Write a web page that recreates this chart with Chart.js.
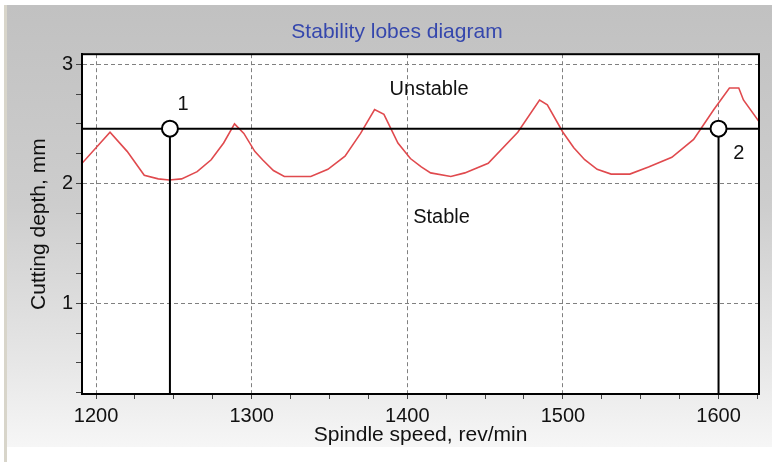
<!DOCTYPE html>
<html>
<head>
<meta charset="utf-8">
<script src="https://cdn.jsdelivr.net/npm/chart.js@4"></script>
<style>
  html, body { margin: 0; padding: 0; background: #fff; overflow: hidden; }
  canvas { display: block; }
</style>
</head>
<body>
<canvas id="lobesChart" width="772" height="462"></canvas>
<script>
// stability lobe curve
const speeds = [1191, 1209, 1220, 1231, 1240, 1247, 1255, 1265, 1274, 1282, 1289, 1295, 1302, 1307, 1314, 1321, 1338, 1349, 1360, 1370, 1379, 1385, 1394, 1402, 1409, 1415, 1428, 1437, 1452, 1471, 1485, 1490, 1500, 1507, 1514, 1522, 1531, 1543, 1555, 1570, 1584, 1597, 1607, 1613, 1616, 1626];
const depths = [2.17, 2.43, 2.27, 2.07, 2.04, 2.03, 2.04, 2.10, 2.20, 2.34, 2.50, 2.42, 2.27, 2.20, 2.11, 2.06, 2.06, 2.12, 2.23, 2.42, 2.62, 2.58, 2.34, 2.21, 2.14, 2.09, 2.06, 2.09, 2.17, 2.43, 2.70, 2.66, 2.43, 2.30, 2.20, 2.12, 2.08, 2.08, 2.14, 2.22, 2.37, 2.62, 2.80, 2.80, 2.70, 2.52];

// chosen operating points
const pointSpeeds = [1247.5, 1600];
const pointNames = ["1", "2"];
const pointNamePos = [[1256, 2.66], [1613, 2.25]];
const limitDepth = 2.46;

const regionNames = ["Unstable", "Stable"];
const regionPos = [[1414, 2.79], [1422, 1.72]];

const xMin = 1191, xMax = 1626;
const yMin = 0.24, yMax = 3.083;
const xTicks = [1200, 1225, 1250, 1275, 1300, 1325, 1350, 1375, 1400, 1425, 1450, 1475, 1500, 1525, 1550, 1575, 1600, 1625];
const xLabels = [1200, 1300, 1400, 1500, 1600];
const yTicks = [0.25, 0.5, 0.75, 1, 1.25, 1.5, 1.75, 2, 2.25, 2.5, 2.75, 3];
const yLabels = [1, 2, 3];

Chart.defaults.font.family = "'Liberation Sans', Arial, sans-serif";

const decor = {
  id: "decor",
  beforeDraw(chart) {
    const { ctx, chartArea: a, width, height } = chart;
    ctx.save();
    ctx.fillStyle = "#fff";
    ctx.fillRect(0, 0, width, height);
    const g = ctx.createLinearGradient(0, 5, 0, 447);
    g.addColorStop(0, "#c1c1c1");
    g.addColorStop(0.45, "#cdcdcd");
    g.addColorStop(0.8, "#e6e6e6");
    g.addColorStop(1, "#f6f6f6");
    ctx.fillStyle = g;
    ctx.fillRect(7, 5, width - 7, 442);
    ctx.fillStyle = "#d8d5ca";
    ctx.fillRect(4, 5, 3, height - 5);
    ctx.fillStyle = "#fff";
    ctx.fillRect(a.left, a.top, a.right - a.left, a.bottom - a.top);
    ctx.restore();
  },
  afterDraw(chart) {
    const { ctx, chartArea: a, scales } = chart;
    ctx.save();
    ctx.strokeStyle = "#000";
    ctx.lineWidth = 2;
    ctx.strokeRect(a.left, a.top, a.right - a.left, a.bottom - a.top);
    ctx.fillStyle = "#111";
    ctx.font = "20px 'Liberation Sans', Arial, sans-serif";
    ctx.textAlign = "center";
    ctx.textBaseline = "middle";
    pointNames.forEach((t, i) => {
      ctx.fillText(t, scales.x.getPixelForValue(pointNamePos[i][0]), scales.y.getPixelForValue(pointNamePos[i][1]));
    });
    regionNames.forEach((t, i) => {
      ctx.fillText(t, scales.x.getPixelForValue(regionPos[i][0]), scales.y.getPixelForValue(regionPos[i][1]));
    });
    ctx.restore();
  }
};

const gridColor = (c) => c.tick && (c.scale.axis === "x" ? xLabels : yLabels).includes(c.tick.value) ? "#808080" : "rgba(0,0,0,0)";

new Chart(document.getElementById("lobesChart"), {
  type: "scatter",
  data: {
    datasets: [
      {
        data: pointSpeeds.map(s => ({ x: s, y: limitDepth })),
        showLine: false,
        pointRadius: 8,
        pointBackgroundColor: "#fff",
        pointBorderColor: "#000",
        pointBorderWidth: 2
      },
      ...pointSpeeds.map(s => ({
        data: [{ x: s, y: yMin }, { x: s, y: limitDepth }],
        showLine: true,
        borderColor: "#000",
        borderWidth: 2,
        pointRadius: 0
      })),
      {
        data: [{ x: xMin, y: limitDepth }, { x: xMax, y: limitDepth }],
        showLine: true,
        borderColor: "#000",
        borderWidth: 2,
        pointRadius: 0
      },
      {
        data: speeds.map((s, i) => ({ x: s, y: depths[i] })),
        showLine: true,
        borderColor: "#e04a4e",
        borderWidth: 1.6,
        pointRadius: 0,
        tension: 0
      }
    ]
  },
  options: {
    responsive: false,
    animation: false,
    layout: { padding: { left: 35, right: 13, top: 0, bottom: 0 } },
    plugins: {
      legend: { display: false },
      tooltip: { enabled: false },
      title: {
        display: true,
        text: "Stability lobes diagram",
        color: "#3547ad",
        font: { size: 21, weight: "normal" },
        padding: { top: 20, bottom: 9 }
      }
    },
    scales: {
      x: {
        type: "linear",
        min: xMin,
        max: xMax,
        afterBuildTicks: s => { s.ticks = xTicks.map(v => ({ value: v })); },
        afterFit: s => { s.height = 68; },
        ticks: {
          callback: v => xLabels.includes(v) ? String(v) : "",
          color: "#111",
          font: { size: 20 },
          padding: 5,
          maxRotation: 0,
          autoSkip: false
        },
        grid: { color: gridColor, tickColor: "#444", tickLength: 5, tickBorderDash: [] },
        border: { color: "#000", width: 2, dash: [4, 3] },
        title: {
          display: true,
          text: "Spindle speed, rev/min",
          color: "#111",
          font: { size: 21 },
          padding: { top: 0, bottom: 14 }
        }
      },
      y: {
        min: yMin,
        max: yMax,
        afterBuildTicks: s => { s.ticks = yTicks.map(v => ({ value: v })); },
        afterFit: s => { s.width = 47; },
        ticks: {
          callback: v => yLabels.includes(v) ? String(v) : "",
          color: "#111",
          font: { size: 20 },
          padding: 3,
          autoSkip: false
        },
        grid: { color: gridColor, tickColor: "#444", tickLength: 6, tickBorderDash: [] },
        border: { color: "#000", width: 2, dash: [4, 3] },
        title: {
          display: true,
          text: "Cutting depth, mm",
          color: "#111",
          font: { size: 21 },
          padding: { top: -8, bottom: 0 }
        }
      }
    }
  },
  plugins: [decor]
});
</script>
</body>
</html>
